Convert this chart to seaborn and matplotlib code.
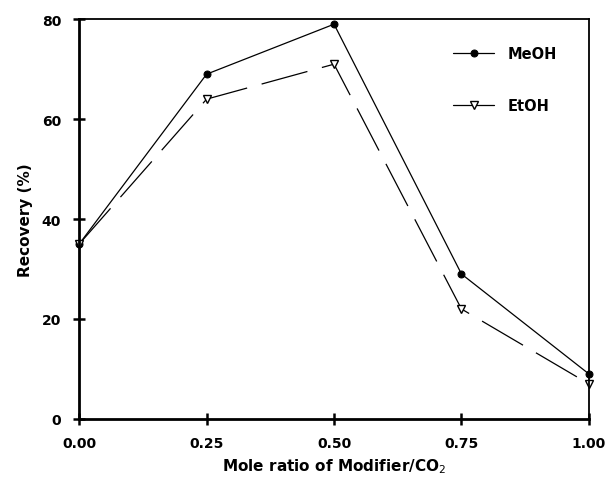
import pandas as pd
import numpy as np
from matplotlib import pyplot as plt
import seaborn as sns

# values
mole_ratio = [0.00, 0.25, 0.50, 0.75, 1.00]
meoh = [35, 69, 79, 29, 9]
etoh = [35, 64, 71, 22, 7]

sns.set_style("ticks")
plt.rcParams['font.family'] = ['DejaVu Sans']
plt.rcParams['text.color'] = 'black'
plt.rcParams['axes.labelcolor'] = 'black'

fig = plt.figure(figsize=(6.09, 4.81), dpi=100)
ax = fig.add_axes([0.13, 0.127, 0.837, 0.831])

df_me = pd.DataFrame({'x': mole_ratio, 'y': meoh})
df_et = pd.DataFrame({'x': mole_ratio, 'y': etoh})

sns.lineplot(data=df_me, x='x', y='y', ax=ax, color='black', lw=0.9,
             marker='o', markersize=5, markerfacecolor='black',
             markeredgecolor='black', label='MeOH', clip_on=False)
sns.lineplot(data=df_et, x='x', y='y', ax=ax, color='black', lw=0.9,
             marker='v', markersize=6, markerfacecolor='white',
             markeredgecolor='black', markeredgewidth=1, label='EtOH',
             dashes=(38, 12), clip_on=False)

ax.set_xlim(0, 1.0)
ax.set_ylim(0, 80)
ax.set_xticks([0, 0.25, 0.5, 0.75, 1.0])
ax.set_xticklabels(['0.00', '0.25', '0.50', '0.75', '1.00'])
ax.set_yticks([0, 20, 40, 60, 80])

for side in ['left', 'bottom', 'right', 'top']:
    ax.spines[side].set_visible(True)
    ax.spines[side].set_color('black')
ax.spines['left'].set_linewidth(2)
ax.spines['bottom'].set_linewidth(2)
ax.spines['right'].set_linewidth(1.3)
ax.spines['top'].set_linewidth(1.3)

ax.tick_params(axis='both', direction='inout', length=8, width=1.8,
               labelsize=10, colors='black')
ax.tick_params(axis='x', pad=8)
ax.tick_params(axis='y', pad=9)
for lab in ax.get_xticklabels() + ax.get_yticklabels():
    lab.set_fontweight('bold')

ax.set_xlabel('Mole ratio of Modifier/CO$_2$', fontsize=11,
              fontweight='bold', labelpad=5)
ax.set_ylabel('Recovery (%)', fontsize=11, fontweight='bold', labelpad=6)

leg = ax.legend(loc='upper left', frameon=False, fontsize=10.5,
                handlelength=2.8, handletextpad=0.9, labelspacing=2.5,
                bbox_to_anchor=(0.708, 0.965))
for t in leg.get_texts():
    t.set_fontweight('bold')
    t.set_color('black')
leg.get_lines()[1].set_linestyle('-')

plt.savefig('out.png', dpi=100)
